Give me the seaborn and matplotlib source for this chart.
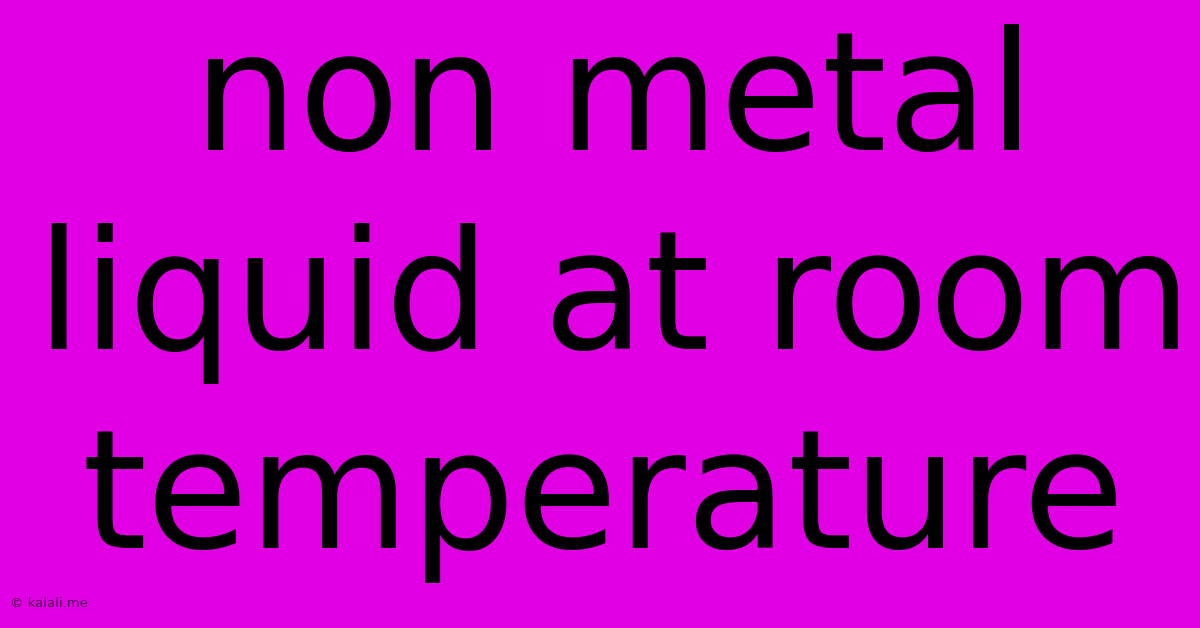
import matplotlib
matplotlib.use('Agg')
import matplotlib.pyplot as plt
import seaborn as sns

# Texte du visuel
lines = ['non metal', 'liquid at room', 'temperature']
watermark = '\u00a9 kalali.me'

# Position de chaque ligne (centre x, ligne de base y), en pixels
centres_x = [614, 614, 603]
baselines = [150, 349, 548]

BG = '#e100e4'
W, H = 1200, 628

sns.set_theme(style='white')
plt.rcParams['font.family'] = ['DejaVu Sans']

fig = plt.figure(figsize=(W / 100, H / 100), dpi=100)
fig.patch.set_facecolor(BG)
ax = fig.add_axes([0, 0, 1, 1])
ax.set_facecolor(BG)
ax.set_xlim(0, W)
ax.set_ylim(H, 0)
ax.axis('off')

for txt, x, y in zip(lines, centres_x, baselines):
    ax.text(x, y, txt, ha='center', va='baseline',
            fontsize=119.5, color='black')

ax.text(10, 607, watermark, ha='left', va='baseline',
        fontsize=9.5, color='#4a004e')

fig.savefig('out.png', dpi=100, facecolor=BG)
plt.close(fig)
